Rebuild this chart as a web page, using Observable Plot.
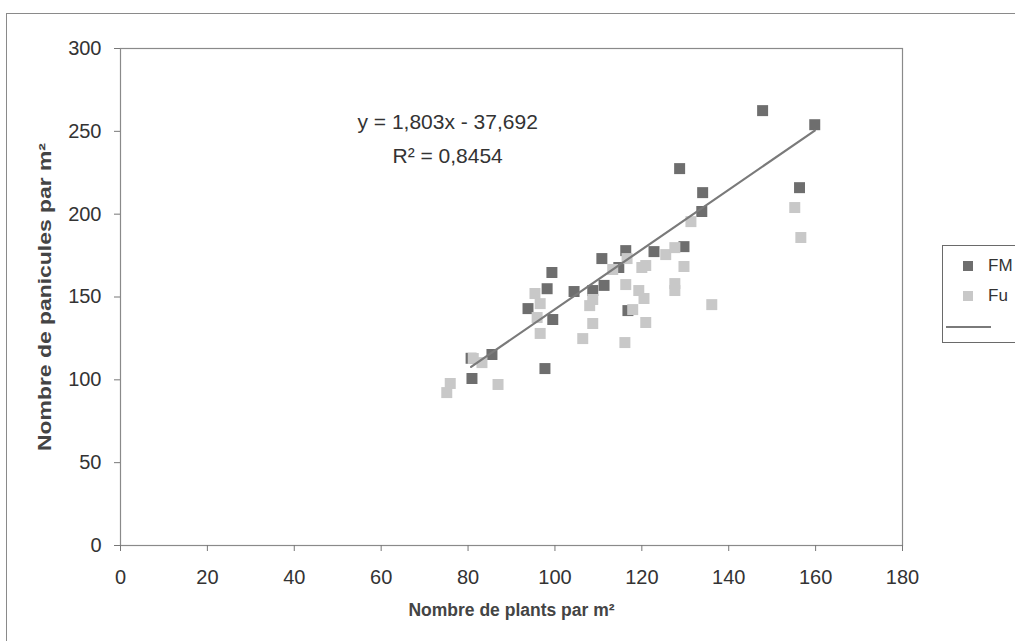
<!DOCTYPE html>
<html>
<head>
<meta charset="utf-8">
<script src="https://cdn.jsdelivr.net/npm/d3@7"></script>
<script src="https://cdn.jsdelivr.net/npm/@observablehq/plot@0.6"></script>
<style>
  html, body { margin: 0; padding: 0; background: #fff; overflow: hidden; width: 1015px; height: 641px; }
  #wrap { position: relative; width: 1015px; height: 641px; overflow: hidden; }
  #outer { position: absolute; left: 6px; top: 13px; width: 1100px; height: 700px; border: 1px solid #8a8a8a; box-sizing: border-box; }
  #chart { position: absolute; left: 0; top: 0; }
  #legend { position: absolute; left: 942px; top: 245px; width: 120px; height: 98px; border: 1px solid #6a6a6a; box-sizing: border-box; font-family: "Liberation Sans", Arial, sans-serif; font-size: 17px; color: #333; }
  .item { position: absolute; left: 0; height: 20px; display: flex; align-items: center; }
  .sw { width: 10px; height: 10px; margin-left: 20px; margin-right: 15px; }
  .ln { width: 45px; height: 0; border-top: 2px solid #7a7a7a; margin-left: 3px; }
</style>
</head>
<body>
<div id="wrap">
  <div id="outer"></div>
  <div id="chart"></div>
  <div id="legend"></div>
</div>
<script>
// Series names
const seriesNames = ["FM", "Fu"];
// FM series (dark squares)
const fmX = [80.7, 85.5, 80.9, 97.7, 93.8, 98.2, 99.3, 99.5, 104.4, 108.7, 111.3, 110.8, 116.3, 114.7, 122.8, 116.8, 128.7, 134.0, 133.8, 129.7, 156.3, 147.8, 159.8];
const fmY = [113, 115.3, 100.8, 106.8, 143, 155, 164.8, 136.4, 153.3, 153.9, 157, 173.2, 178, 167.8, 177.4, 141.8, 227.5, 213, 201.6, 180.4, 216, 262.5, 254];
// Fu series (light squares)
const fuX = [75.9, 75.1, 81.2, 83.2, 86.9, 95.4, 96.6, 95.9, 96.6, 108, 108.7, 108.7, 106.4, 113.3, 116.3, 117.9, 116.1, 119.3, 120.5, 120.9, 120.9, 120, 116.6, 125.5, 131.3, 127.6, 129.7, 127.6, 127.6, 136.1, 155.2, 156.6];
const fuY = [97.8, 92.3, 112.9, 110.4, 97.2, 152.1, 146, 137.6, 128, 144.8, 148.5, 134, 124.9, 166.6, 157.5, 142.4, 122.5, 153.9, 149.1, 134.6, 169, 167.8, 173.2, 175.6, 195.5, 179.8, 168.4, 158.1, 153.9, 145.4, 204, 185.9];
// Trend line (printed equation)
const slope = 1.803;
const intercept = -37.692;
const eqLabel = "y = 1,803x - 37,692";
const r2Label = "R² = 0,8454";
// Axes
const xTicks = [0, 20, 40, 60, 80, 100, 120, 140, 160, 180];
const yTicks = [0, 50, 100, 150, 200, 250, 300];
const xTitle = "Nombre de plants par m²";
const yTitle = "Nombre de panicules par m²";

const colors = {FM: "#6e6e6e", Fu: "#c8c8c8"};

const fm = fmX.map((x, i) => ({x, y: fmY[i]}));
const fu = fuX.map((x, i) => ({x, y: fuY[i]}));
const xMin = d3.min(fmX), xMax = d3.max(fmX);
const trend = [xMin, xMax].map(x => ({x, y: slope * x + intercept}));

const chart = Plot.plot({
  width: 1015,
  height: 641,
  marginLeft: 120,
  marginRight: 113,
  marginTop: 48,
  marginBottom: 96,
  style: {fontFamily: "'Liberation Sans', Arial, sans-serif", fontSize: "20px", color: "#333", background: "transparent"},
  x: {domain: [0, 180], ticks: xTicks, label: null},
  y: {domain: [0, 300], ticks: yTicks, label: null},
  marks: [
    Plot.frame({stroke: "#8a8a8a", strokeWidth: 1.2}),
    Plot.axisX({ticks: xTicks, tickSize: 6, tickPadding: 18, stroke: "#777", fill: "#333", fontSize: 20, label: null}),
    Plot.axisY({ticks: yTicks, tickSize: 6, tickPadding: 13, stroke: "#777", fill: "#333", fontSize: 20, label: null}),
    Plot.dot(fm, {x: "x", y: "y", symbol: "square", r: 6.2, fill: colors.FM, stroke: "none"}),
    Plot.dot(fu, {x: "x", y: "y", symbol: "square", r: 6.2, fill: colors.Fu, stroke: "none"}),
    Plot.line(trend, {x: "x", y: "y", stroke: "#7a7a7a", strokeWidth: 2.2}),
    Plot.text([eqLabel], {x: 75.3, y: 255.5, text: d => d, fontSize: 21, fill: "#333"}),
    Plot.text([r2Label], {x: 75.3, y: 235, text: d => d, fontSize: 21, fill: "#333"}),
    Plot.text([xTitle], {frameAnchor: "bottom", dy: 70, text: d => d, fontSize: 17.5, fontWeight: "bold", fill: "#444"}),
    Plot.text([yTitle], {frameAnchor: "left", dx: -75, rotate: -90, textAnchor: "middle", text: d => d, fontSize: 18, fontWeight: "bold", fill: "#444"})
  ]
});
document.getElementById("chart").appendChild(chart);

// Stretch the y title along its length as in the original
d3.select(chart).selectAll("text")
  .filter(function() { return this.textContent === yTitle; })
  .attr("textLength", 308)
  .attr("lengthAdjust", "spacingAndGlyphs");

// Legend
const legend = document.getElementById("legend");
seriesNames.forEach((name, i) => {
  const item = document.createElement("div");
  item.className = "item";
  item.style.top = (10 + i * 30) + "px";
  const sw = document.createElement("span");
  sw.className = "sw";
  sw.style.background = colors[name];
  const label = document.createElement("span");
  label.textContent = name;
  item.appendChild(sw);
  item.appendChild(label);
  legend.appendChild(item);
});
const lineItem = document.createElement("div");
lineItem.className = "item";
lineItem.style.top = "71px";
const ln = document.createElement("span");
ln.className = "ln";
lineItem.appendChild(ln);
legend.appendChild(lineItem);
</script>
</body>
</html>
